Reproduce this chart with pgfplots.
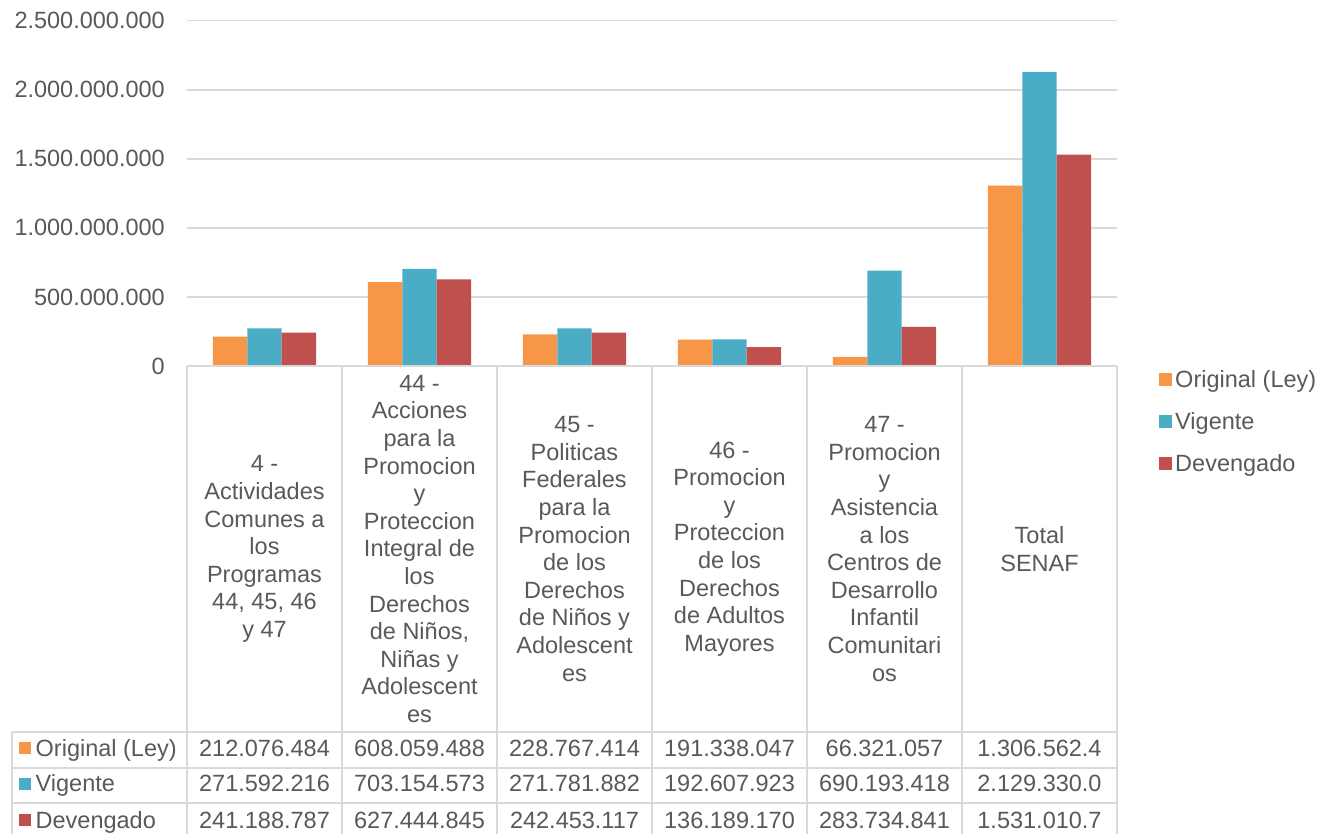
\documentclass[border=0pt]{standalone}
\usepackage{fontspec}
\setmainfont{Liberation Sans}
\usepackage{pgfplots}
\pgfplotsset{compat=1.18}
\definecolor{cOrig}{HTML}{F79646}
\definecolor{cVig}{HTML}{4BACC6}
\definecolor{cDev}{HTML}{C0504D}
\definecolor{txt}{HTML}{595959}
\definecolor{grd}{HTML}{D9D9D9}
\newcommand{\fs}{\fontsize{23.5bp}{27.6bp}\selectfont}
\begin{document}
\begin{tikzpicture}
\begin{axis}[
  scale only axis, width=930bp, height=345.3bp,
  at={(187bp,468bp)}, anchor=south west,
  ybar=0pt, bar width=34.4bp,
  xmin=-0.5, xmax=5.5, ymin=0, ymax=2500000000,
  xtick=\empty,
  scaled y ticks=false,
  ytick={0,500000000,1000000000,1500000000,2000000000,2500000000},
  yticklabels={0,500.000.000,1.000.000.000,1.500.000.000,2.000.000.000,2.500.000.000},
  yticklabel style={font=\fs, text=txt, anchor=east, inner sep=0pt, xshift=-22bp},
  ymajorgrids, grid style={grd, line width=1.5bp},
  axis line style={draw=none},
  major tick length=0pt,
  legend cell align=left,
  legend style={at={(axis description cs:1.0452,-0.1607)}, anchor=west,
    draw=none, fill=none, inner sep=0pt, row sep=23.5bp, column sep=3bp,
    font=\fs, text=txt, nodes={inner sep=0pt}},
  legend image code/.code={\fill[#1] (0bp,-6.5bp) rectangle (13bp,6.5bp);},
]
\addplot[fill=cOrig, draw=none] coordinates {(0,212076484) (1,608059488) (2,228767414) (3,191338047) (4,66321057) (5,1306562400)};
\addlegendentry{Original (Ley)}
\addplot[fill=cVig, draw=none] coordinates {(0,271592216) (1,703154573) (2,271781882) (3,192607923) (4,690193418) (5,2129330000)};
\addlegendentry{Vigente}
\addplot[fill=cDev, draw=none] coordinates {(0,241188787) (1,627444845) (2,242453117) (3,136189170) (4,283734841) (5,1531010700)};
\addlegendentry{Devengado}
\end{axis}
\begin{scope}[x=1bp,y=1bp]
\begin{scope}[grd, line width=1.5bp]
\draw (187,468) -- (1117,468);
\draw (12,102) -- (1117,102);
\draw (12,66) -- (1117,66);
\draw (12,31) -- (1117,31);
\draw (12,-4) -- (1117,-4);
\draw (12,102) -- (12,-10);
\foreach \x in {187,342,497,652,807,962,1117} \draw (\x,468) -- (\x,-10);
\end{scope}
\begin{scope}[every node/.style={font=\fs, text=txt, align=center, inner sep=0pt}]
\node at (264.5,285) {4 -\\Actividades\\Comunes a\\los\\Programas\\44, 45, 46\\y 47};
\node at (419.5,285) {44 -\\Acciones\\para la\\Promocion\\y\\Proteccion\\Integral de\\los\\Derechos\\de Niños,\\Niñas y\\Adolescent\\es};
\node at (574.5,285) {45 -\\Politicas\\Federales\\para la\\Promocion\\de los\\Derechos\\de Niños y\\Adolescent\\es};
\node at (729.5,285) {46 -\\Promocion\\y\\Proteccion\\de los\\Derechos\\de Adultos\\Mayores};
\node at (884.5,285) {47 -\\Promocion\\y\\Asistencia\\a los\\Centros de\\Desarrollo\\Infantil\\Comunitari\\os};
\node at (1039.5,285) {Total\\SENAF};
\end{scope}
\begin{scope}[every node/.style={font=\fs, text=txt, inner sep=0pt, anchor=base}]
\node at (264.5,78) {212.076.484};
\node at (419.5,78) {608.059.488};
\node at (574.5,78) {228.767.414};
\node at (729.5,78) {191.338.047};
\node at (884.5,78) {66.321.057};
\node at (1039.5,78) {1.306.562.4};
\node at (264.5,42.3) {271.592.216};
\node at (419.5,42.3) {703.154.573};
\node at (574.5,42.3) {271.781.882};
\node at (729.5,42.3) {192.607.923};
\node at (884.5,42.3) {690.193.418};
\node at (1039.5,42.3) {2.129.330.0};
\node at (264.5,6) {241.188.787};
\node at (419.5,6) {627.444.845};
\node at (574.5,6) {242.453.117};
\node at (729.5,6) {136.189.170};
\node at (884.5,6) {283.734.841};
\node at (1039.5,6) {1.531.010.7};
\node[anchor=base west] at (35.5,78) {Original (Ley)};
\node[anchor=base west] at (35.5,42.3) {Vigente};
\node[anchor=base west] at (35.5,6) {Devengado};
\end{scope}
\fill[cOrig] (19,79.5) rectangle (31,91.5);
\fill[cVig] (19,43.7) rectangle (31,55.7);
\fill[cDev] (19,8) rectangle (31,20);
\end{scope}
\pgfresetboundingbox
\path (0bp,0bp) rectangle (1320bp,834bp);
\end{tikzpicture}
\end{document}
